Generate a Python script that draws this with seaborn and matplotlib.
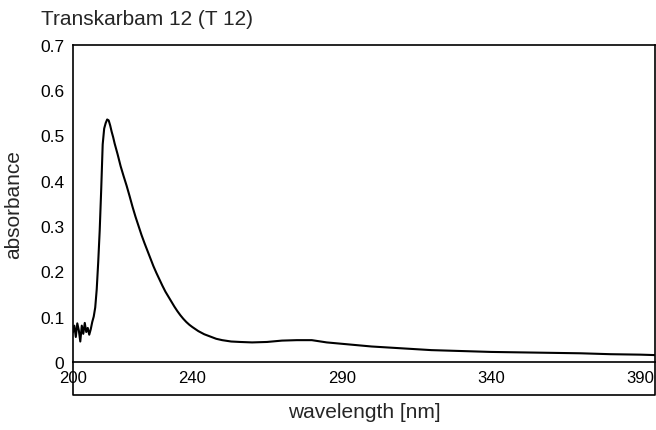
import numpy as np
import pandas as pd
import seaborn as sns
import matplotlib.pyplot as plt

# UV spectrum
wavelength = [200.0, 200.5, 201.0, 201.5, 202.0, 202.5, 203.0, 203.5, 204.0, 204.5,
              205.0, 205.5, 206.0, 206.5, 207.0, 207.5, 208.0, 208.5, 209.0, 209.5,
              210.0, 210.5, 211.0, 211.5, 212.0, 212.5, 213.0, 213.5, 214.0, 215.0,
              216.0, 217.0, 218.0, 219.0, 220.0, 221.0, 222.0, 223.0, 224.0, 225.0,
              226.0, 227.0, 228.0, 229.0, 230.0, 231.0, 232.0, 233.0, 234.0, 235.0,
              236.0, 237.0, 238.0, 239.0, 240.0, 242.0, 244.0, 246.0, 248.0, 250.0,
              253.0, 256.0, 260.0, 265.0, 270.0, 275.0, 280.0, 285.0, 290.0, 295.0,
              300.0, 310.0, 320.0, 330.0, 340.0, 350.0, 360.0, 370.0, 380.0, 390.0,
              395.0]
absorbance = [0.065, 0.080, 0.055, 0.085, 0.070, 0.045, 0.080, 0.062, 0.086, 0.066,
              0.075, 0.060, 0.072, 0.088, 0.100, 0.120, 0.160, 0.220, 0.290, 0.380,
              0.480, 0.515, 0.527, 0.535, 0.533, 0.522, 0.508, 0.496, 0.482, 0.458,
              0.432, 0.410, 0.389, 0.366, 0.342, 0.320, 0.300, 0.280, 0.262, 0.245,
              0.228, 0.211, 0.196, 0.182, 0.168, 0.155, 0.144, 0.133, 0.122, 0.112,
              0.103, 0.095, 0.088, 0.082, 0.077, 0.068, 0.061, 0.056, 0.051, 0.048,
              0.045, 0.044, 0.043, 0.044, 0.047, 0.048, 0.048, 0.043, 0.040, 0.037,
              0.034, 0.030, 0.026, 0.024, 0.022, 0.021, 0.020, 0.019, 0.017, 0.016,
              0.015]
xticks = [200, 240, 290, 340, 390]
yticks = [0, 0.1, 0.2, 0.3, 0.4, 0.5, 0.6, 0.7]
yticklabels = ['0', '0.1', '0.2', '0.3', '0.4', '0.5', '0.6', '0.7']

sns.set_style('white')
plt.rcParams['font.family'] = ['Liberation Sans', 'DejaVu Sans']

df = pd.DataFrame({'wavelength': wavelength, 'absorbance': absorbance})

fig = plt.figure(figsize=(6.56, 4.31), dpi=100)
ax = fig.add_axes([0.111, 0.158, 0.888, 0.736])
sns.lineplot(data=df, x='wavelength', y='absorbance', color='black', linewidth=1.5, ax=ax)

ax.set_xlim(200, 395)
ax.set_ylim(0, 0.7)
ax.set_xticks(xticks)
ax.set_yticks(yticks)
ax.set_yticklabels(yticklabels)
ax.tick_params(axis='x', direction='in', length=3, width=1, pad=6, labelsize=12, colors='black')
ax.tick_params(axis='y', length=0, pad=6, labelsize=12.5, colors='black')
for s in ax.spines.values():
    s.set_color('black')
    s.set_linewidth(1.2)

# box under the axis that holds the tick labels
ax.plot([0, 0, 1, 1], [0, -0.105, -0.105, 0], transform=ax.transAxes,
        color='black', linewidth=1.2, clip_on=False)

ax.set_xlabel('wavelength [nm]', fontsize=15)
ax.set_ylabel('absorbance', fontsize=15)
ax.xaxis.set_label_coords(0.5, -0.125)
ax.yaxis.set_label_coords(-0.085, 0.5)
fig.text(41 / 656, 1 - 25 / 431, 'Transkarbam 12 (T 12)', fontsize=15, va='baseline', ha='left')

plt.savefig('out.png', dpi=100)
